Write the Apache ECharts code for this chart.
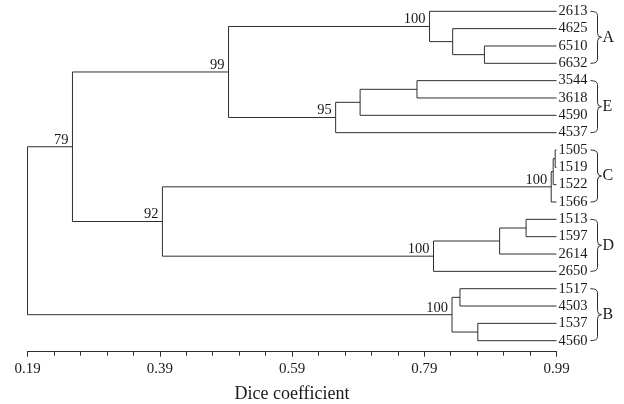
<!DOCTYPE html>
<html>
<head>
<meta charset="utf-8">
<script src="https://cdn.jsdelivr.net/npm/echarts@6/dist/echarts.min.js"></script>
<style>html,body{margin:0;padding:0;background:#fff}#c{width:624px;height:404px}</style>
</head>
<body>
<div id="c"></div>
<script>
// Leaves (top to bottom)
const leaves = ['2613','4625','6510','6632','3544','3618','4590','4537','1505','1519','1522','1566','1513','1597','2614','2650','1517','4503','1537','4560'];
const leafDice = 0.99;
// Merges: node ids 0-19 are leaves, merges get ids 20.. in order
const mergeLeft   = [2, 1, 0, 4, 23, 24, 22, 8, 27, 28, 12, 30, 31, 29, 26, 16, 18, 35, 34];
const mergeRight  = [3, 20, 21, 5, 6, 7, 25, 9, 10, 11, 13, 14, 15, 32, 33, 17, 19, 36, 37];
const mergeHeight = [0.881, 0.833, 0.798, 0.779, 0.693, 0.656, 0.494, 0.988, 0.985, 0.982, 0.944, 0.904, 0.804, 0.394, 0.258, 0.844, 0.871, 0.832, 0.19];
const mergeSupport = ['', '', '100', '', '', '95', '99', '', '', '100', '', '', '100', '92', '79', '', '', '100', ''];
// Groups
const groupLetters = ['A', 'E', 'C', 'D', 'B'];
const groupFirst = [0, 4, 8, 12, 16];
const groupLast  = [3, 7, 11, 15, 19];
// Axis ticks
const axisMin = 0.19, axisMax = 0.99, axisStep = 0.2;

// Tree geometry (node x = Dice value, node y = mean of children)
const nodeX = [], nodeY = [];
leaves.forEach((l, i) => { nodeX[i] = leafDice; nodeY[i] = i; });
mergeHeight.forEach((h, k) => {
  const id = leaves.length + k;
  nodeX[id] = h;
  nodeY[id] = (nodeY[mergeLeft[k]] + nodeY[mergeRight[k]]) / 2;
});

const FONT = '"Liberation Serif", "Times New Roman", serif';
const LINE = '#2e2e2e';
const TXT = '#1a1a1a';

const chart = echarts.init(document.getElementById('c'), null, {renderer: 'canvas'});
chart.setOption({
  animation: false,
  backgroundColor: '#fff',
  grid: {left: 27.5, right: 67.5, top: 11.3, bottom: 63.3, containLabel: false, outerBoundsMode: 'none'},
  xAxis: {
    type: 'value', min: axisMin, max: axisMax, interval: axisStep,
    position: 'bottom', offset: 11,
    axisLine: {show: true, onZero: false, lineStyle: {color: LINE, width: 1}},
    axisTick: {show: true, inside: false, length: 5, lineStyle: {color: LINE}},
    minorTick: {show: true, splitNumber: 5, length: 4, lineStyle: {color: LINE}},
    splitLine: {show: false},
    axisLabel: {fontFamily: FONT, fontSize: 15, color: TXT, margin: 10, formatter: v => v.toFixed(2)},
    name: 'Dice coefficient', nameLocation: 'middle', nameGap: 34,
    nameTextStyle: {fontFamily: FONT, fontSize: 18, color: TXT}
  },
  yAxis: {
    type: 'value', min: 0, max: leaves.length - 1, interval: 1, inverse: true,
    position: 'right',
    axisLine: {show: false}, axisTick: {show: false}, splitLine: {show: false},
    axisLabel: {fontFamily: FONT, fontSize: 14.5, color: TXT, margin: 2, align: 'left',
      formatter: v => leaves[Math.round(v)] || ''}
  },
  series: [
    {
      type: 'custom', clip: false, silent: true,
      data: mergeHeight.map((h, k) => [h, nodeY[leaves.length + k], k]),
      encode: {x: 0, y: 1},
      renderItem: function (params, api) {
        const k = params.dataIndex;
        const id = leaves.length + k;
        const L = mergeLeft[k], R = mergeRight[k];
        const h = nodeX[id];
        const p1 = api.coord([nodeX[L], nodeY[L]]);
        const p2 = api.coord([h, nodeY[L]]);
        const p3 = api.coord([h, nodeY[R]]);
        const p4 = api.coord([nodeX[R], nodeY[R]]);
        const pn = api.coord([h, nodeY[id]]);
        const children = [{
          type: 'polyline',
          shape: {points: [p1, p2, p3, p4]},
          style: {stroke: LINE, lineWidth: 1, fill: null}
        }];
        if (mergeSupport[k]) {
          children.push({
            type: 'text',
            x: pn[0] - 4, y: pn[1] + 0.5,
            style: {text: mergeSupport[k], font: '14.5px ' + FONT, fill: TXT, align: 'right', verticalAlign: 'bottom'}
          });
        }
        return {type: 'group', children: children};
      }
    },
    {
      type: 'custom', clip: false, silent: true,
      data: groupLetters.map((g, i) => [leafDice, (groupFirst[i] + groupLast[i]) / 2, i]),
      encode: {x: 0, y: 1},
      renderItem: function (params, api) {
        const i = params.dataIndex;
        const top = api.coord([leafDice, groupFirst[i]]);
        const bot = api.coord([leafDice, groupLast[i]]);
        const mid = api.coord([leafDice, (groupFirst[i] + groupLast[i]) / 2]);
        const x0 = top[0] + 34, xv = top[0] + 41, xt = top[0] + 45;
        const r = 4;
        const st = {stroke: LINE, lineWidth: 1, fill: null};
        const yT = top[1], yB = bot[1], yM = mid[1];
        return {type: 'group', children: [
          {type: 'bezierCurve', shape: {x1: x0, y1: yT, x2: xv, y2: yT + r, cpx1: xv, cpy1: yT}, style: st},
          {type: 'line', shape: {x1: xv, y1: yT + r, x2: xv, y2: yM - r}, style: st},
          {type: 'bezierCurve', shape: {x1: xv, y1: yM - r, x2: xt, y2: yM, cpx1: xv, cpy1: yM}, style: st},
          {type: 'bezierCurve', shape: {x1: xt, y1: yM, x2: xv, y2: yM + r, cpx1: xv, cpy1: yM}, style: st},
          {type: 'line', shape: {x1: xv, y1: yM + r, x2: xv, y2: yB - r}, style: st},
          {type: 'bezierCurve', shape: {x1: xv, y1: yB - r, x2: x0, y2: yB, cpx1: xv, cpy1: yB}, style: st},
          {type: 'text', x: xt + 1, y: yM, style: {text: groupLetters[i], font: '16px ' + FONT, fill: TXT, align: 'left', verticalAlign: 'middle'}}
        ]};
      }
    }
  ]
});
</script>
</body>
</html>
